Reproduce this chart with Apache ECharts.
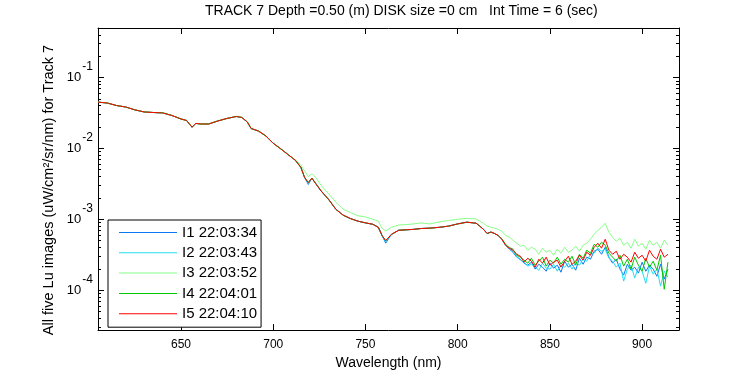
<!DOCTYPE html>
<html>
<head>
<meta charset="utf-8">
<script src="https://cdn.jsdelivr.net/npm/echarts@6/dist/echarts.min.js"></script>
<style>html,body{margin:0;padding:0;background:#fff}#c{width:750px;height:375px}</style>
</head>
<body>
<div id="c"></div>
<script>
const wavelength = [605,610,615,620,625,630,635,640,645,650,
653,656,658,661,665,670,675,680,683,686,
688,692,696,700,704,708,712,715,717,719,
721,723,726,730,734,738,742,746,750,754,
757,759,761,764,768,772,776,780,785,790,
795,800,805,810,812,814,816,818,820,822,
824,826,828,830,832,834,836,838,840,842,
844,846,848,850,852,854,856,858,860,862,
864,866,868,870,872,874,876,878,880,882,
884,886,888,890,892,894,896,898,900,902,
904,906,908,910,912,914];

const I1 = [4.5e-2,4.37e-2,4.03e-2,3.84e-2,3.5e-2,3.27e-2,3.21e-2,3.16e-2,2.92e-2,2.6e-2,
2.48e-2,1.99e-2,2.25e-2,2.21e-2,2.21e-2,2.44e-2,2.65e-2,2.82e-2,2.73e-2,2.35e-2,
1.91e-2,1.76e-2,1.5e-2,1.18e-2,9.9e-3,8.2e-3,6.8e-3,5.4e-3,3.9e-3,3.1e-3,
3.8e-3,3.2e-3,2.5e-3,1.91e-3,1.38e-3,1.14e-3,1.02e-3,9.4e-4,8.9e-4,8.5e-4,
7.7e-4,5.9e-4,4.6e-4,6.1e-4,7.0e-4,7.1e-4,7.2e-4,7.4e-4,7.5e-4,7.7e-4,
8.0e-4,8.6e-4,9.1e-4,8.8e-4,8.0e-4,7.2e-4,6.3e-4,6.6e-4,6.3e-4,5.9e-4,
5.2e-4,4.3e-4,3.8e-4,3.43e-4,2.92e-4,2.73e-4,2.40e-4,2.25e-4,2.48e-4,1.98e-4,
2.32e-4,2.11e-4,1.85e-4,2.40e-4,2.04e-4,2.25e-4,1.79e-4,2.56e-4,2.11e-4,2.32e-4,
1.91e-4,2.82e-4,2.32e-4,2.92e-4,2.73e-4,3.54e-4,3.78e-4,3.21e-4,4.03e-4,2.92e-4,
2.40e-4,2.73e-4,1.98e-4,1.63e-4,2.32e-4,1.91e-4,2.11e-4,1.74e-4,2.48e-4,1.85e-4,
2.25e-4,1.98e-4,1.57e-4,2.32e-4,1.43e-4,1.98e-4];

const I2 = [4.5e-2,4.37e-2,4.03e-2,3.84e-2,3.5e-2,3.27e-2,3.21e-2,3.16e-2,2.92e-2,2.6e-2,
2.48e-2,1.99e-2,2.25e-2,2.21e-2,2.21e-2,2.44e-2,2.65e-2,2.82e-2,2.73e-2,2.35e-2,
1.91e-2,1.76e-2,1.5e-2,1.18e-2,9.9e-3,8.2e-3,6.8e-3,5.4e-3,3.9e-3,3.2e-3,
3.8e-3,3.2e-3,2.5e-3,1.91e-3,1.38e-3,1.14e-3,1.02e-3,9.4e-4,8.9e-4,8.5e-4,
7.7e-4,5.9e-4,4.8e-4,6.1e-4,7.0e-4,7.1e-4,7.2e-4,7.4e-4,7.5e-4,7.7e-4,
8.0e-4,8.6e-4,9.1e-4,8.8e-4,8.0e-4,7.2e-4,6.3e-4,6.6e-4,6.3e-4,5.9e-4,
5.2e-4,4.3e-4,3.9e-4,3.54e-4,3.01e-4,2.65e-4,2.48e-4,2.18e-4,2.32e-4,2.11e-4,
1.91e-4,2.40e-4,2.04e-4,1.98e-4,2.32e-4,1.85e-4,2.25e-4,2.11e-4,2.40e-4,1.98e-4,
2.48e-4,2.25e-4,2.73e-4,2.56e-4,3.21e-4,3.32e-4,3.91e-4,3.54e-4,3.78e-4,2.82e-4,
2.56e-4,2.11e-4,2.40e-4,1.34e-4,1.98e-4,2.25e-4,1.48e-4,2.11e-4,1.85e-4,1.25e-4,
2.18e-4,1.68e-4,1.98e-4,1.14e-4,1.85e-4,1.52e-4];

const I3 = [4.5e-2,4.37e-2,4.03e-2,3.84e-2,3.5e-2,3.27e-2,3.21e-2,3.16e-2,2.92e-2,2.6e-2,
2.48e-2,1.99e-2,2.25e-2,2.21e-2,2.21e-2,2.44e-2,2.65e-2,2.82e-2,2.73e-2,2.35e-2,
1.91e-2,1.76e-2,1.5e-2,1.18e-2,9.9e-3,8.2e-3,6.9e-3,5.8e-3,4.8e-3,4.0e-3,
4.4e-3,3.9e-3,3.0e-3,2.3e-3,1.74e-3,1.38e-3,1.24e-3,1.12e-3,1.08e-3,1.0e-3,
9.4e-4,7.5e-4,6.8e-4,7.7e-4,8.3e-4,8.4e-4,8.6e-4,8.9e-4,8.6e-4,9.2e-4,
9.6e-4,1.0e-3,1.03e-3,1.01e-3,9.4e-4,8.8e-4,8.0e-4,7.7e-4,7.5e-4,7.2e-4,
6.8e-4,5.9e-4,5.6e-4,5.06e-4,4.59e-4,4.17e-4,4.30e-4,3.66e-4,4.03e-4,3.78e-4,
3.21e-4,3.91e-4,3.43e-4,3.66e-4,3.11e-4,3.78e-4,3.32e-4,4.03e-4,3.43e-4,3.66e-4,
4.17e-4,3.54e-4,4.30e-4,4.59e-4,5.23e-4,6.15e-4,7.0e-4,7.71e-4,8.78e-4,6.56e-4,
5.57e-4,4.90e-4,5.40e-4,4.30e-4,4.74e-4,3.91e-4,5.23e-4,4.17e-4,4.59e-4,3.78e-4,
5.06e-4,4.30e-4,4.74e-4,3.91e-4,5.06e-4,4.30e-4];

const I4 = [4.5e-2,4.37e-2,4.03e-2,3.84e-2,3.5e-2,3.27e-2,3.21e-2,3.2e-2,2.92e-2,2.6e-2,
2.48e-2,1.99e-2,2.25e-2,2.21e-2,2.21e-2,2.44e-2,2.65e-2,2.82e-2,2.73e-2,2.35e-2,
1.91e-2,1.76e-2,1.5e-2,1.18e-2,9.9e-3,8.2e-3,6.8e-3,5.4e-3,3.9e-3,3.3e-3,
3.8e-3,3.2e-3,2.5e-3,1.91e-3,1.38e-3,1.14e-3,1.02e-3,9.4e-4,8.9e-4,8.5e-4,
7.7e-4,5.9e-4,5.0e-4,6.1e-4,7.0e-4,7.1e-4,7.2e-4,7.4e-4,7.5e-4,7.7e-4,
8.0e-4,8.6e-4,9.1e-4,8.8e-4,8.0e-4,7.2e-4,6.3e-4,6.6e-4,6.3e-4,5.9e-4,
5.3e-4,4.4e-4,4.0e-4,3.78e-4,3.11e-4,2.92e-4,2.65e-4,2.40e-4,2.82e-4,2.25e-4,
2.56e-4,2.92e-4,2.18e-4,2.65e-4,2.40e-4,2.92e-4,2.32e-4,2.73e-4,2.48e-4,3.01e-4,
2.25e-4,3.21e-4,2.82e-4,3.66e-4,3.32e-4,4.45e-4,4.03e-4,4.74e-4,4.30e-4,3.32e-4,
2.92e-4,2.56e-4,3.11e-4,2.18e-4,2.73e-4,1.98e-4,2.92e-4,2.25e-4,1.85e-4,2.82e-4,
2.11e-4,2.56e-4,1.91e-4,3.11e-4,1.03e-4,2.48e-4];

const I5 = [4.5e-2,4.37e-2,4.03e-2,3.84e-2,3.5e-2,3.27e-2,3.21e-2,3.16e-2,2.92e-2,2.6e-2,
2.48e-2,1.99e-2,2.25e-2,2.21e-2,2.21e-2,2.44e-2,2.65e-2,2.82e-2,2.73e-2,2.35e-2,
1.91e-2,1.76e-2,1.5e-2,1.18e-2,9.9e-3,8.2e-3,6.8e-3,5.4e-3,3.9e-3,3.3e-3,
3.8e-3,3.2e-3,2.5e-3,1.91e-3,1.38e-3,1.14e-3,1.02e-3,9.4e-4,8.9e-4,8.5e-4,
7.7e-4,5.9e-4,5.0e-4,6.1e-4,7.0e-4,7.1e-4,7.2e-4,7.4e-4,7.5e-4,7.7e-4,
8.0e-4,8.6e-4,9.1e-4,8.8e-4,8.0e-4,7.2e-4,6.3e-4,6.6e-4,6.3e-4,5.9e-4,
5.2e-4,4.3e-4,3.9e-4,3.66e-4,3.21e-4,3.01e-4,2.48e-4,2.82e-4,2.56e-4,2.11e-4,
2.73e-4,2.40e-4,2.92e-4,2.25e-4,2.48e-4,2.65e-4,2.11e-4,2.56e-4,3.01e-4,2.32e-4,
2.56e-4,3.11e-4,2.65e-4,3.43e-4,3.11e-4,4.03e-4,4.59e-4,3.91e-4,5.23e-4,3.66e-4,
3.21e-4,3.54e-4,2.73e-4,3.21e-4,2.92e-4,2.48e-4,3.43e-4,2.82e-4,3.11e-4,2.56e-4,
3.66e-4,3.01e-4,2.73e-4,3.78e-4,2.92e-4,3.21e-4];

const seriesNames = ['I1 22:03:34','I2 22:03:43','I3 22:03:52','I4 22:04:01','I5 22:04:10'];
const seriesColors = ['#0a78f0','#20e0f0','#88ff88','#00c800','#ff0000'];
const xTicks = [650,700,750,800,850,900];
const yTicks = [1e-4,1e-3,1e-2,1e-1];
const yTickExponents = ['-4','-3','-2','-1'];
const yMinorTicks = [3e-5,4e-5,5e-5,6e-5,7e-5,8e-5,9e-5,
  2e-4,3e-4,4e-4,5e-4,6e-4,7e-4,8e-4,9e-4,
  2e-3,3e-3,4e-3,5e-3,6e-3,7e-3,8e-3,9e-3,
  2e-2,3e-2,4e-2,5e-2,6e-2,7e-2,8e-2,9e-2,
  2e-1,3e-1,4e-1];
const titleText = 'TRACK 7 Depth =0.50 (m) DISK size =0 cm   Int Time = 6 (sec)';
const xLabel = 'Wavelength (nm)';
const yLabel = 'All five Lu images (uW/cm\u00B2/sr/nm) for Track 7';

const FONT = '"Liberation Sans", Arial, Helvetica, sans-serif';
const X_MIN = 605, X_MAX = 920, Y_MIN = 2.73e-5, Y_MAX = 0.5;
const allSeries = [I1, I2, I3, I4, I5];

const chart = echarts.init(document.getElementById('c'), null, {renderer: 'canvas'});

const lineBlack = {show: true, onZero: false, lineStyle: {color: '#000', width: 1}};
function yAxisDef(pos, ticks, len, showLine, labels) {
  return {
    type: 'log', logBase: 10, min: Y_MIN, max: Y_MAX, position: pos,
    axisLine: showLine ? lineBlack : {show: false, onZero: false},
    splitLine: {show: false},
    axisTick: {show: true, inside: true, length: len, customValues: ticks, lineStyle: {color: '#000', width: 1}},
    axisLabel: labels ? {
      show: true, customValues: yTicks, margin: 5,
      formatter: function (v) {
        const i = yTicks.findIndex(t => Math.abs(Math.log10(t) - Math.log10(v)) < 1e-6);
        return i < 0 ? '' : '{b|10}{e|' + yTickExponents[i] + '}';
      },
      rich: {
        b: {fontSize: 13, fontFamily: FONT, color: '#000', lineHeight: 13, padding: [10, 0, 10, 0]},
        e: {fontSize: 12, fontFamily: FONT, color: '#000', lineHeight: 12, padding: [0, 0, 21, 1]}
      }
    } : {show: false}
  };
}

const option = {
  animation: false,
  backgroundColor: '#fff',
  title: {
    text: titleText, left: 205, top: 4, padding: 0,
    textStyle: {fontSize: 14, fontWeight: 'normal', color: '#000', fontFamily: FONT}
  },
  grid: {left: 98, right: 71, top: 28, bottom: 44, containLabel: false},
  legend: {
    orient: 'vertical', left: 108, top: 220,
    padding: [5, 4, 6, 11], itemWidth: 58, itemHeight: 14, itemGap: 5.3,
    borderColor: '#000', borderWidth: 1, backgroundColor: '#fff',
    icon: 'path://M0,6.5 L58,6.5 L58,7.5 L0,7.5 Z',
    data: seriesNames,
    textStyle: {fontSize: 15, color: '#000', fontFamily: FONT, lineHeight: 14},
    selectedMode: false
  },
  xAxis: [
    {
      type: 'value', min: X_MIN, max: X_MAX, position: 'bottom',
      name: xLabel, nameLocation: 'middle', nameGap: 23,
      nameTextStyle: {fontSize: 14, color: '#000', fontFamily: FONT},
      axisLine: lineBlack, splitLine: {show: false},
      axisTick: {show: true, inside: true, length: 6, customValues: xTicks, lineStyle: {color: '#000'}},
      axisLabel: {show: true, customValues: xTicks, margin: 9, fontSize: 12, color: '#000', fontFamily: FONT}
    },
    {
      type: 'value', min: X_MIN, max: X_MAX, position: 'top',
      axisLine: lineBlack, splitLine: {show: false},
      axisTick: {show: true, inside: true, length: 6, customValues: xTicks, lineStyle: {color: '#000'}},
      axisLabel: {show: false}
    }
  ],
  yAxis: [
    yAxisDef('left', yTicks, 6, true, true),
    yAxisDef('left', yMinorTicks, 3, false, false),
    yAxisDef('right', yTicks, 6, true, false),
    yAxisDef('right', yMinorTicks, 3, false, false)
  ],
  graphic: [{
    type: 'text', x: 49, y: 190, rotation: Math.PI / 2,
    style: {text: yLabel, fill: '#000', font: '14.5px ' + FONT, textAlign: 'center', textVerticalAlign: 'middle'}
  }],
  series: allSeries.map((arr, k) => ({
    name: seriesNames[k], type: 'line', xAxisIndex: 0, yAxisIndex: 0,
    symbol: 'none', showSymbol: false, silent: true,
    lineStyle: {width: 1, color: seriesColors[k]}, itemStyle: {color: seriesColors[k]},
    data: wavelength.map((w, i) => [w, arr[i]])
  }))
};
chart.setOption(option);
</script>
</body>
</html>
